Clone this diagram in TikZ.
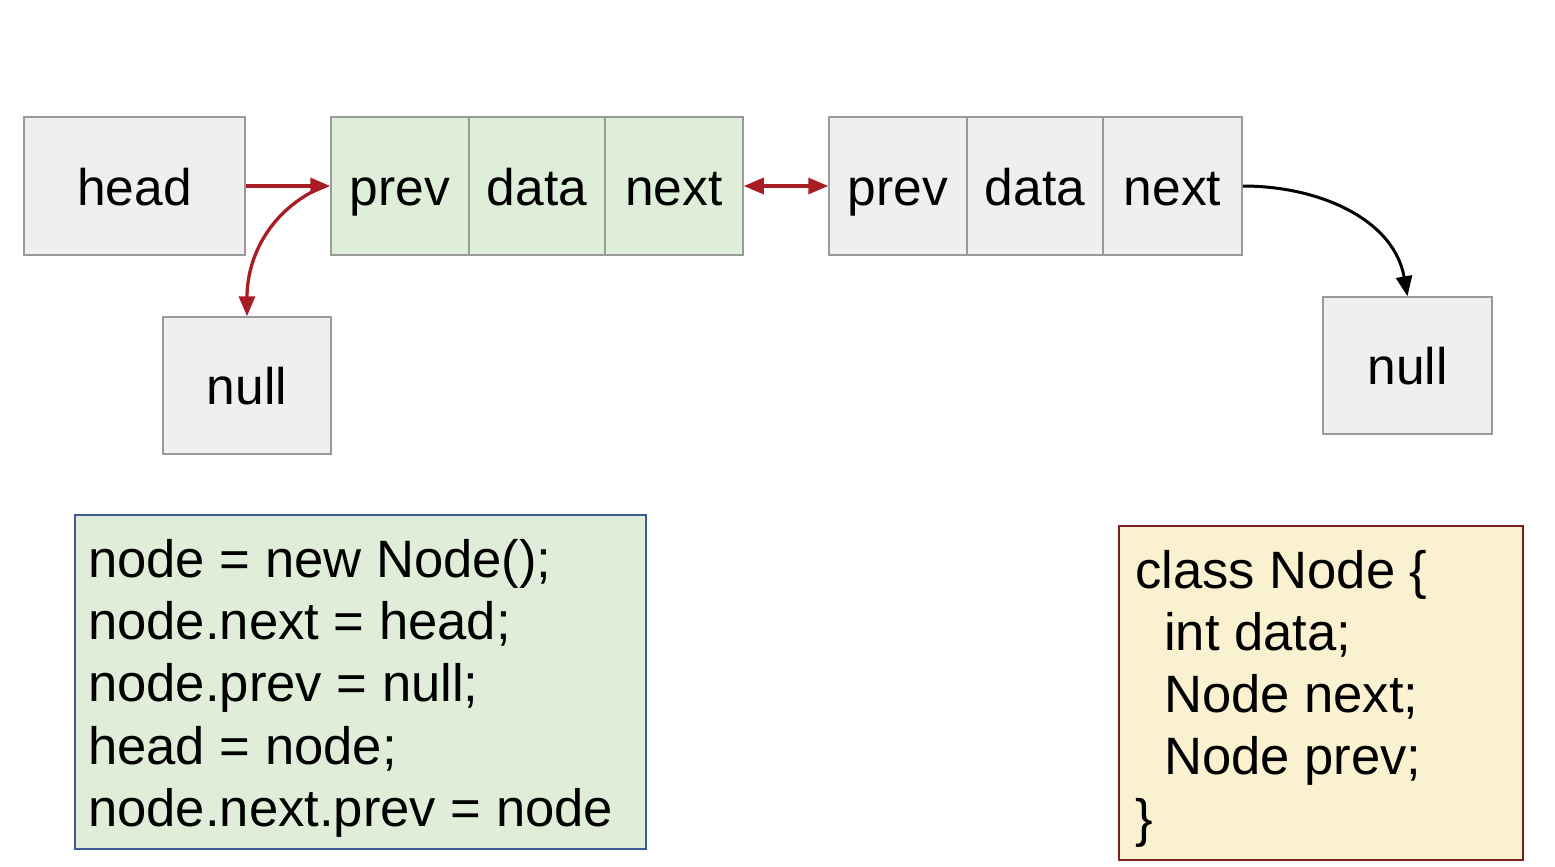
\documentclass[tikz,border=0pt]{standalone}
\usepackage{fontspec}
\setmainfont{Liberation Sans}
\usetikzlibrary{arrows.meta}
\definecolor{boxgray}{HTML}{EFEFEF}
\definecolor{edgegray}{HTML}{9A9A9A}
\definecolor{nodegreen}{HTML}{DFEED8}
\definecolor{codegreen}{HTML}{E0EED9}
\definecolor{codeblue}{HTML}{3D5A99}
\definecolor{classfill}{HTML}{FAF1D0}
\definecolor{classred}{HTML}{7E1F1F}
\definecolor{arrred}{HTML}{A81C24}
\tikzset{
  bigfont/.style={font=\fontsize{51.5}{62}\selectfont},
  codefont/.style={font=\fontsize{52.6}{62}\selectfont},
  cellbox/.style={draw=edgegray, line width=1.5pt, rectangle, inner sep=0pt,
     minimum height=138pt, text height=38pt, text depth=0pt, bigfont},
  graycell/.style={cellbox, fill=boxgray},
  greencell/.style={cellbox, fill=nodegreen},
  codeline/.style={anchor=base west, inner sep=0pt, codefont},
  redarrow/.style={draw=arrred, line width=3.3pt, -{Triangle[length=20pt,width=16pt]}},
  blackarrow/.style={draw=black, line width=3pt, -{Triangle[length=20pt,width=16pt]}},
}
\begin{document}
\begin{tikzpicture}[x=1pt,y=-1pt]
\useasboundingbox (0,0) rectangle (1555,867);
\fill[white] (0,0) rectangle (1555,867);
% head
\node[graycell, minimum width=221pt] (head) at (134.5,186) {head};
% first node (green)
\node[greencell, minimum width=138pt] (p1) at (400,186) {prev};
\node[greencell, minimum width=136pt] (d1) at (537,186) {data};
\node[greencell, minimum width=138pt] (n1) at (674,186) {next};
% second node
\node[graycell, minimum width=138pt] (p2) at (898,186) {prev};
\node[graycell, minimum width=136pt] (d2) at (1035,186) {data};
\node[graycell, minimum width=139pt] (n2) at (1172.5,186) {next};
% nulls
\node[graycell, minimum width=168pt, minimum height=137pt] (nullL) at (247,385.5) {null};
\node[graycell, minimum width=169pt, minimum height=137pt] (nullR) at (1407.5,365.5) {null};
% arrows
\draw[redarrow] (head.east) -- (p1.west);
\draw[redarrow] ([xshift=-6pt]p1.west) to[out=203,in=90] (nullL.north);
\draw[draw=arrred, line width=3.3pt, {Triangle[length=20pt,width=16pt]}-{Triangle[length=20pt,width=16pt]}] (n1.east) -- (p2.west);
\draw[blackarrow] (n2.east) to[out=0,in=100] (nullR.north);
% code box
\node[draw=codeblue, line width=2.5pt, fill=codegreen, rectangle, inner sep=0pt,
      minimum width=571pt, minimum height=334pt] (code) at (360.5,682) {};
\node[codeline] (c1) at (88,577) {node = new Node();};
\node[codeline] (c2) at (88,639) {node.next = head;};
\node[codeline] (c3) at (88,701) {node.prev = null;};
\node[codeline] (c4) at (88,764) {head = node;};
\node[codeline] (c5) at (88,826) {node.next.prev = node};
% class box
\node[draw=classred, line width=2.5pt, fill=classfill, rectangle, inner sep=0pt,
      minimum width=404pt, minimum height=334pt] (cls) at (1321,693) {};
\node[codeline] (k1) at (1135,588) {class Node \{};
\node[codeline] (k2) at (1164,650) {int data;};
\node[codeline] (k3) at (1164,712) {Node next;};
\node[codeline] (k4) at (1164,774) {Node prev;};
\node[codeline] (k5) at (1135,836) {\}};
\end{tikzpicture}
\end{document}
